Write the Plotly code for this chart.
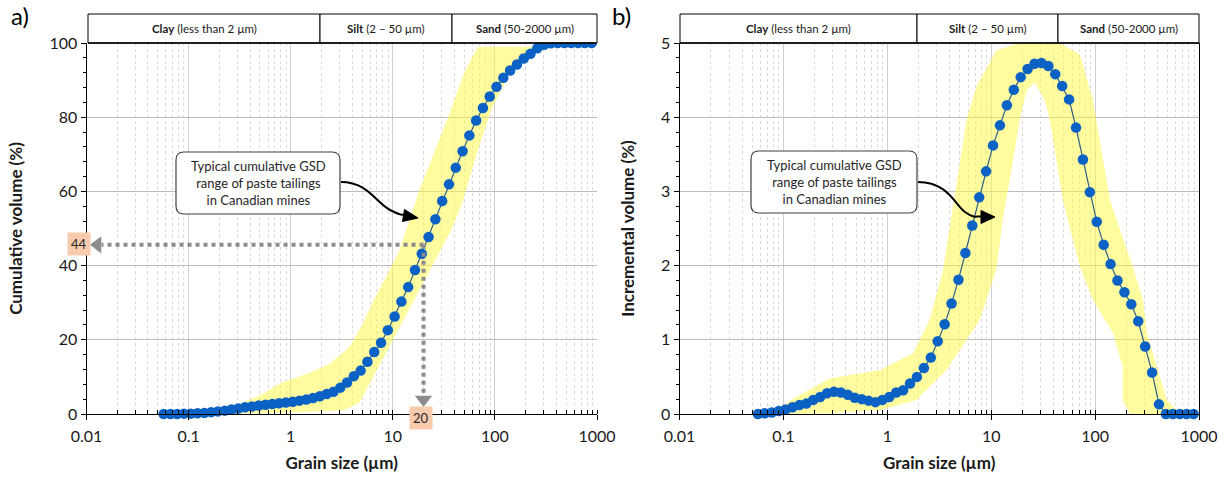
import plotly.graph_objects as go

W, H = 1227, 481
PLOT_TOP, PLOT_BOT = 43, 414

# ---------------- data ----------------
size_um = [0.0569, 0.0663, 0.0773, 0.0901, 0.1050, 0.1224, 0.1426, 0.1662, 0.1938, 0.2259,
           0.2633, 0.3069, 0.3577, 0.4169, 0.4860, 0.5664, 0.6603, 0.7696, 0.8971, 1.046,
           1.219, 1.421, 1.656, 1.930, 2.250, 2.623, 3.057, 3.563, 4.154, 4.841,
           5.643, 6.577, 7.667, 8.937, 10.42, 12.14, 14.15, 16.50, 19.23, 22.41,
           26.12, 30.45, 35.49, 41.37, 48.22, 56.20, 65.51, 76.35, 89.01, 103.7,
           120.9, 140.9, 164.3, 191.5, 223.2, 260.2, 303.3, 353.5, 412.1, 480.3,
           559.8, 652.5, 760.5, 886.4]

cum_vol = [0.0, 0.0, 0.0, 0.1, 0.1, 0.2, 0.3, 0.5, 0.7, 0.9,
           1.2, 1.5, 1.8, 2.0, 2.3, 2.5, 2.7, 2.9, 3.1, 3.3,
           3.6, 3.9, 4.3, 4.8, 5.4, 6.0, 7.1, 8.5, 10.2, 11.7,
           14.1, 16.7, 19.2, 22.6, 26.3, 30.3, 34.2, 38.8, 43.2, 47.7,
           52.5, 57.4, 61.9, 66.4, 70.8, 75.1, 79.1, 82.5, 85.6, 88.2,
           90.6, 92.6, 94.2, 95.8, 97.1, 98.6, 99.5, 99.9, 100, 100,
           100, 100, 100, 100]

inc_vol = [0.00, 0.01, 0.02, 0.04, 0.06, 0.09, 0.12, 0.14, 0.19, 0.23,
           0.28, 0.30, 0.29, 0.26, 0.22, 0.20, 0.18, 0.16, 0.19, 0.23,
           0.29, 0.32, 0.41, 0.50, 0.62, 0.76, 0.98, 1.21, 1.49, 1.81,
           2.17, 2.54, 2.92, 3.27, 3.62, 3.89, 4.16, 4.37, 4.54, 4.65,
           4.72, 4.73, 4.69, 4.58, 4.42, 4.24, 3.86, 3.43, 2.99, 2.59,
           2.28, 2.02, 1.80, 1.64, 1.48, 1.25, 0.91, 0.56, 0.13, 0.00,
           0.00, 0.00, 0.00, 0.00]

# typical range band, cumulative (a)
band_a_upper_um = [0.18, 0.5, 0.82, 1.5, 2.4, 3.75, 5.0, 6.6, 9.0, 11.6, 18, 27, 36, 50, 68, 120, 245]
band_a_upper_pct = [0, 5, 8.5, 11, 13.5, 18, 24, 31, 38, 44, 60, 72, 81, 92, 99, 99, 99]
band_a_lower_um = [245, 140, 92, 68, 48, 38, 17, 7.9, 4.7, 3.3, 1.2, 0.5, 0.25]
band_a_lower_pct = [99, 92, 82, 71, 57, 50, 31.7, 14.6, 3, 1, 0.5, 0.2, 0]

# typical range band, incremental (b)
band_b_outer_um = [0.0787, 0.133, 0.279, 0.845, 1.77, 2.56, 3.44, 4.63, 5.78, 7.2, 11.2, 18.9,
                   45.8, 71.5, 95.3, 139, 231, 289, 316, 394, 492, 656]
band_b_outer_pct = [0.03, 0.23, 0.48, 0.59, 0.82, 1.27, 1.94, 3.06, 3.96, 4.41, 4.9, 5.0,
                    5.0, 4.84, 4.23, 2.88, 1.98, 1.54, 1.09, 0.63, 0.19, 0.0]
band_b_inner_um = [216, 185, 185, 149, 95.3, 71.5, 49, 36.7, 32.8, 26.3, 22, 18.9, 16.9,
                   12.9, 11.2, 7.76, 3.7, 1.9, 0.845, 0.279, 0.115]
band_b_inner_pct = [0.0, 0.19, 0.63, 1.09, 1.54, 1.98, 2.88, 3.96, 4.23, 4.47, 4.37, 3.99, 3.56,
                    2.61, 1.94, 1.27, 0.59, 0.19, 0.05, 0.01, 0.0]

marked_size = [20]
marked_cum = [44]
arrow_level = 45.6

zones = ["<b>Clay</b> (less than 2 µm)", "<b>Silt</b> (2 – 50 µm)", "<b>Sand</b> (50-2000 µm)"]
callout_lines = "Typical cumulative GSD<br>range of paste tailings<br>in Canadian mines"

# ---------------- styling ----------------
FONT = "Lato"
BAND = "rgba(255,248,70,0.52)"
BLUE = "#0B62C4"
LINE = "#2F5F86"
GRAY = "#8C8C8C"


def px(X):
    return X / W


def py(Y):
    return (PLOT_BOT - Y) / (PLOT_BOT - PLOT_TOP)


fig = go.Figure()

# panel a
fig.add_trace(go.Scatter(x=band_a_upper_um + band_a_lower_um, y=band_a_upper_pct + band_a_lower_pct,
                         fill="toself", fillcolor=BAND, mode="lines", line=dict(width=0),
                         hoverinfo="skip", xaxis="x", yaxis="y"))
fig.add_trace(go.Scatter(x=size_um, y=cum_vol, mode="lines+markers",
                         line=dict(color=LINE, width=1.2), marker=dict(size=10.5, color=BLUE),
                         cliponaxis=False, xaxis="x", yaxis="y"))
# dotted reading arrows
fig.add_trace(go.Scatter(x=[marked_size[0], 0.0140], y=[arrow_level, arrow_level], mode="lines",
                         line=dict(color=GRAY, width=4, dash="dot"), xaxis="x", yaxis="y"))
fig.add_trace(go.Scatter(x=[marked_size[0], marked_size[0]], y=[arrow_level, 5.2], mode="lines",
                         line=dict(color=GRAY, width=4, dash="dot"), xaxis="x", yaxis="y"))
fig.add_trace(go.Scatter(x=[0.01282], y=[arrow_level], mode="markers",
                         marker=dict(symbol="triangle-left", size=15, color=GRAY),
                         cliponaxis=False, xaxis="x", yaxis="y"))
fig.add_trace(go.Scatter(x=[marked_size[0]], y=[3.9], mode="markers",
                         marker=dict(symbol="triangle-down", size=15, color=GRAY),
                         cliponaxis=False, xaxis="x", yaxis="y"))

# panel b
fig.add_trace(go.Scatter(x=band_b_outer_um + band_b_inner_um, y=band_b_outer_pct + band_b_inner_pct,
                         fill="toself", fillcolor=BAND, mode="lines", line=dict(width=0),
                         hoverinfo="skip", xaxis="x2", yaxis="y2"))
fig.add_trace(go.Scatter(x=size_um, y=inc_vol, mode="lines+markers",
                         line=dict(color=LINE, width=1.2), marker=dict(size=10.5, color=BLUE),
                         cliponaxis=False, xaxis="x2", yaxis="y2"))

tickfont = dict(family=FONT, size=16, color="#1a1a1a")
titlefont = dict(family=FONT, size=17, color="#1a1a1a")


def xaxis_style(domain, anchor):
    return dict(domain=domain, anchor=anchor, type="log", range=[-2, 3], dtick=1, tickformat="~g",
                automargin=False,
                ticks="outside", ticklen=5, tickcolor="black", showline=True, linecolor="black",
                linewidth=1, showgrid=True, gridcolor="#D0D0D0", gridwidth=1, zeroline=False,
                minor=dict(dtick="D1", ticks="inside", ticklen=4, tickcolor="black", showgrid=True,
                           gridcolor="#DADADA", griddash="dot"),
                tickfont=tickfont, ticklabelstandoff=3,
                title=dict(text="<b>Grain size (µm)</b>", font=titlefont, standoff=12))


def yaxis_style(anchor, rng, dtick, mdtick, title, mirror=False):
    return dict(domain=[0, 1], anchor=anchor, range=rng, dtick=dtick, ticks="outside", ticklen=5,
                automargin=False,
                tickcolor="black", showline=True, linecolor="black", linewidth=1, mirror=mirror,
                showgrid=True, gridcolor="#BDBDBD", gridwidth=1, zeroline=False,
                minor=dict(dtick=mdtick, ticks="outside", ticklen=3, tickcolor="black", showgrid=False),
                tickfont=tickfont, title=dict(text=title, font=titlefont, standoff=22))


shapes = []
annotations = []

# header boxes
header_a = [88, 320, 452, 597]
header_b = [680, 917, 1058, 1199]
for edges in (header_a, header_b):
    for k in range(3):
        shapes.append(dict(type="rect", xref="paper", yref="paper",
                           x0=px(edges[k]), x1=px(edges[k + 1]), y0=py(43), y1=py(14),
                           line=dict(color="black", width=1), fillcolor="white"))
        annotations.append(dict(xref="paper", yref="paper", x=px((edges[k] + edges[k + 1]) / 2),
                                y=py(28.5), text=zones[k], showarrow=False,
                                font=dict(family=FONT, size=11.5, color="#1a1a1a"),
                                xanchor="center", yanchor="middle"))
    shapes.append(dict(type="line", xref="paper", yref="paper", x0=px(edges[0]), x1=px(edges[3]),
                       y0=py(43), y1=py(43), line=dict(color="black", width=1.5)))


def P(X, Y):
    return f"{px(X):.5f},{py(Y):.5f}"


def rounded_box(x0, y0, x1, y1, r=8):
    return (f"M {P(x0 + r, y0)} L {P(x1 - r, y0)} Q {P(x1, y0)} {P(x1, y0 + r)} "
            f"L {P(x1, y1 - r)} Q {P(x1, y1)} {P(x1 - r, y1)} L {P(x0 + r, y1)} "
            f"Q {P(x0, y1)} {P(x0, y1 - r)} L {P(x0, y0 + r)} Q {P(x0, y0)} {P(x0 + r, y0)} Z")


callouts = [
    dict(box=(176, 152, 340, 214),
         curve=[(341, 182), (368, 182), (376, 203), (390, 210), (400, 214), (406, 215)],
         head=[(418, 218), (404.5, 209.5), (402.5, 221.5)]),
    dict(box=(751, 151, 917, 213),
         curve=[(918, 182), (948, 182), (955, 205), (965, 212), (975, 216), (982, 216.5)],
         head=[(995, 217), (981, 210.5), (981, 223.5)]),
]
for c in callouts:
    x0, y0, x1, y1 = c["box"]
    shapes.append(dict(type="path", xref="paper", yref="paper", path=rounded_box(x0, y0, x1, y1),
                       line=dict(color="#404040", width=1.2), fillcolor="white"))
    annotations.append(dict(xref="paper", yref="paper", x=px((x0 + x1) / 2), y=py((y0 + y1) / 2),
                            text=callout_lines, showarrow=False, align="center",
                            font=dict(family=FONT, size=13, color="#262626"),
                            xanchor="center", yanchor="middle"))
    pts = c["curve"]
    path = (f"M {P(*pts[0])} C {P(*pts[1])} {P(*pts[2])} {P(*pts[3])} "
            f"S {P(*pts[4])} {P(*pts[5])}")
    shapes.append(dict(type="path", xref="paper", yref="paper", path=path,
                       line=dict(color="black", width=2)))
    h = c["head"]
    shapes.append(dict(type="path", xref="paper", yref="paper",
                       path=f"M {P(*h[0])} L {P(*h[1])} L {P(*h[2])} Z",
                       line=dict(color="black", width=1), fillcolor="black"))

# value labels
annotations.append(dict(xref="paper", yref="paper", x=px(67), y=py(244), text=str(marked_cum[0]),
                        showarrow=False, bgcolor="#F8CBAD", borderpad=3,
                        font=dict(family=FONT, size=13, color="#262626")))
annotations.append(dict(xref="paper", yref="paper", x=px(421), y=py(430), text=str(marked_size[0]),
                        showarrow=False, bgcolor="#F8CBAD", borderpad=3,
                        font=dict(family=FONT, size=13, color="#262626")))
# panel letters
annotations.append(dict(xref="paper", yref="paper", x=px(9), y=py(16), text="a)", showarrow=False,
                        xanchor="left", yanchor="middle", font=dict(family=FONT, size=24, color="black")))
annotations.append(dict(xref="paper", yref="paper", x=px(610), y=py(16), text="b)", showarrow=False,
                        xanchor="left", yanchor="middle", font=dict(family=FONT, size=24, color="black")))

fig.update_layout(
    width=W, height=H, margin=dict(l=0, r=0, t=PLOT_TOP, b=H - PLOT_BOT, autoexpand=False),
    paper_bgcolor="white", plot_bgcolor="white", showlegend=False,
    font=dict(family=FONT, color="#1a1a1a"),
    xaxis=xaxis_style([px(86.5), px(597)], "y"),
    yaxis=yaxis_style("x", [0, 100], 20, 4, "<b>Cumulative volume (%)</b>"),
    xaxis2=xaxis_style([px(679.5), px(1199)], "y2"),
    yaxis2=yaxis_style("x2", [0, 5], 1, 0.2, "<b>Incremental volume (%)</b>", mirror=True),
    shapes=shapes, annotations=annotations,
)

fig.write_html("out.html")
